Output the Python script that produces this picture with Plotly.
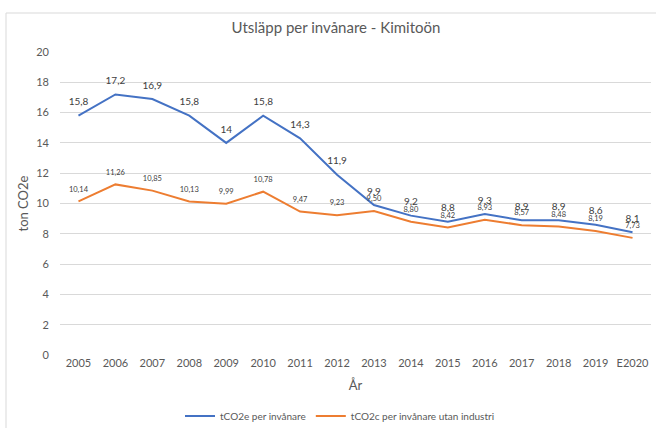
import plotly.graph_objects as go

years = ["2005", "2006", "2007", "2008", "2009", "2010", "2011", "2012",
         "2013", "2014", "2015", "2016", "2017", "2018", "2019", "E2020"]
total = [15.8, 17.2, 16.9, 15.8, 14, 15.8, 14.3, 11.9, 9.9, 9.2, 8.8, 9.3, 8.9, 8.9, 8.6, 8.1]
no_industry = [10.14, 11.26, 10.85, 10.13, 9.99, 10.78, 9.47, 9.23, 9.50, 8.80, 8.42, 8.93, 8.57, 8.48, 8.19, 7.73]
y_ticks = [0, 2, 4, 6, 8, 10, 12, 14, 16, 18, 20]

def fmt1(v):
    s = ("%g" % v)
    return s.replace(".", ",")

def fmt2(v):
    return ("%.2f" % v).replace(".", ",")

W, H = 656, 428
L, R, T, B = 60, 5, 52, 73
pw = W - L - R
ph = H - T - B

fig = go.Figure()
fig.add_trace(go.Scatter(
    x=years, y=total, mode="lines+markers+text", name="tCO2e per invånare",
    line=dict(color="#4472C4", width=2),
    marker=dict(size=11, color="rgba(0,0,0,0)"),
    text=[fmt1(v) for v in total], textposition="top center",
    textfont=dict(family="Lato", size=10, color="#404040"),
    cliponaxis=False,
))
fig.add_trace(go.Scatter(
    x=years, y=no_industry, mode="lines+markers+text", name="tCO2c per invånare utan industri",
    line=dict(color="#ED7D31", width=2),
    marker=dict(size=11, color="rgba(0,0,0,0)"),
    text=[fmt2(v) for v in no_industry], textposition="top center",
    textfont=dict(family="Lato", size=7.5, color="#404040"),
    cliponaxis=False,
))

def px_to_paper_x(px):
    return (px - L) / pw

def px_to_paper_y(py):
    return (H - B - py) / ph

fig.add_shape(type="rect", xref="paper", yref="paper",
              x0=px_to_paper_x(6), x1=px_to_paper_x(662),
              y0=px_to_paper_y(434), y1=px_to_paper_y(13),
              line=dict(color="#D9D9D9", width=1), fillcolor="rgba(0,0,0,0)", layer="above")

fig.update_layout(
    width=W, height=H,
    margin=dict(l=L, r=R, t=T, b=B, autoexpand=False),
    paper_bgcolor="white", plot_bgcolor="white",
    title=dict(text="Utsläpp per invånare - Kimitoön", x=336 / W, xanchor="center",
               y=1 - 22 / H, yanchor="top", yref="container",
               font=dict(family="Lato", size=15, color="#595959")),
    showlegend=True,
    legend=dict(orientation="h", x=px_to_paper_x(340), xanchor="center",
                y=px_to_paper_y(416), yanchor="middle",
                font=dict(family="Lato", size=10, color="#595959"),
                itemwidth=30),
    xaxis=dict(type="category", range=[-0.5, 15.5], showgrid=False, automargin=False,
               showline=False, ticks="", zeroline=False,
               tickfont=dict(family="Lato", size=11, color="#595959"),
               title=dict(text="År", font=dict(family="Lato", size=13, color="#595959"),
                          standoff=12)),
    yaxis=dict(range=[0, 20], tickvals=y_ticks, showgrid=True, gridcolor="#D9D9D9",
               gridwidth=1, zeroline=False, showline=False, ticks="", automargin=False,
               ticklabelstandoff=10,
               tickfont=dict(family="Lato", size=11, color="#595959"),
               title=dict(text="ton CO2e", font=dict(family="Lato", size=13, color="#595959"),
                          standoff=4)),
)

fig.write_html("out.html", config={"displayModeBar": False},
               post_script="document.body.style.margin='0';document.body.style.overflow='hidden';")
